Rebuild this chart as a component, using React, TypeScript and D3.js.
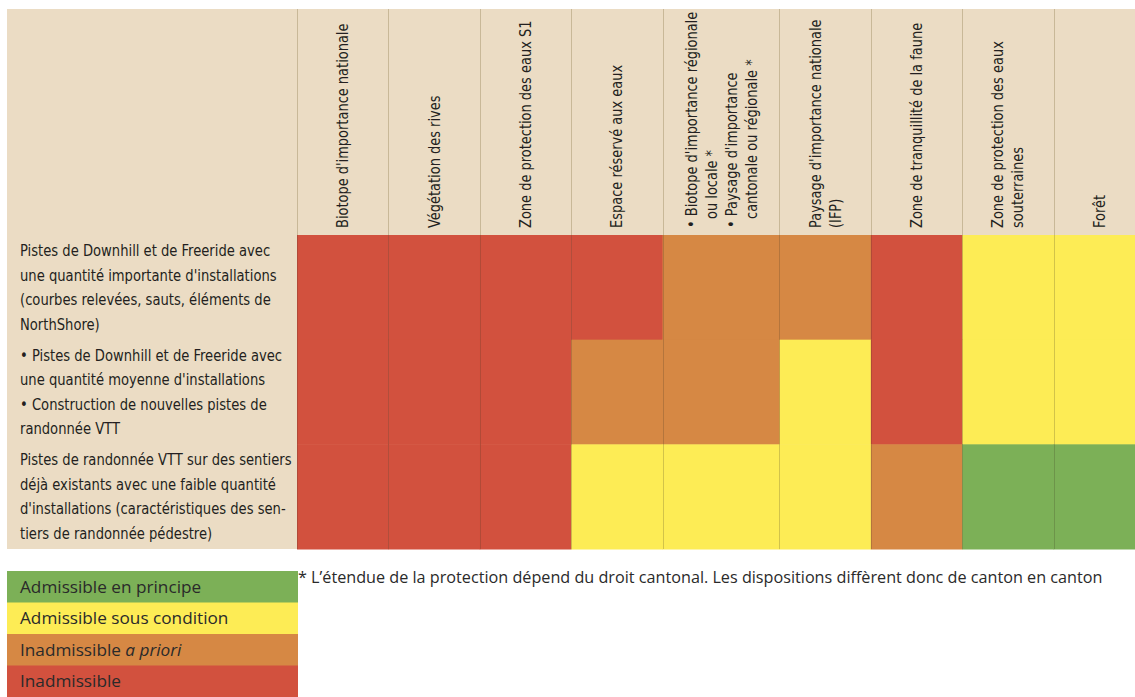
import React, { useEffect, useRef } from 'react';
import * as d3 from 'd3';

// protected zones (columns), header lines as printed
const zones = [
  "Biotope d'importance nationale",
  'Végétation des rives',
  'Zone de protection des eaux S1',
  'Espace réservé aux eaux',
  "Biotope / Paysage d'importance régionale",
  "Paysage d'importance nationale (IFP)",
  'Zone de tranquillité de la faune',
  'Zone de protection des eaux souterraines',
  'Forêt',
];
const zoneLines = [
  ["Biotope d'importance nationale"],
  ['Végétation des rives'],
  ['Zone de protection des eaux S1'],
  ['Espace réservé aux eaux'],
  ["• Biotope d'importance régionale", 'ou locale *', "• Paysage d'importance", 'cantonale ou régionale *'],
  ["Paysage d'importance nationale", '(IFP)'],
  ['Zone de tranquillité de la faune'],
  ['Zone de protection des eaux', 'souterraines'],
  ['Forêt'],
];

// trail types (rows)
const usageLines = [
  [
    'Pistes de Downhill et de Freeride avec',
    "une quantité importante d'installations",
    '(courbes relevées, sauts, éléments de',
    'NorthShore)',
  ],
  [
    '• Pistes de Downhill et de Freeride avec',
    "une quantité moyenne d'installations",
    '• Construction de nouvelles pistes de',
    'randonnée VTT',
  ],
  [
    'Pistes de randonnée VTT sur des sentiers',
    'déjà existants avec une faible quantité',
    "d'installations (caractéristiques des sen-",
    'tiers de randonnée pédestre)',
  ],
];

// 0 admissible en principe, 1 sous condition, 2 a priori inadmissible, 3 inadmissible
const ratings = [
  [3, 3, 3, 3, 2, 2, 3, 1, 1],
  [3, 3, 3, 2, 2, 1, 3, 1, 1],
  [3, 3, 3, 1, 1, 1, 2, 0, 0],
];

const levels = ['Admissible en principe', 'Admissible sous condition', 'Inadmissible a priori', 'Inadmissible'];
const levelColors = ['#7cb057', '#fdec55', '#d68844', '#d2513e'];

const footnote =
  '* L’étendue de la protection dépend du droit cantonal. Les dispositions diffèrent donc de canton en canton';

// relative column widths (the regional biotope column is wider)
const colSpan = [1, 1, 1, 1, 1.28, 1, 1, 1, 1];

const W = 1135;
const H = 697;
const BEIGE = '#ebdcc4';
const COND = "'DejaVu Sans Condensed', 'DejaVu Sans', sans-serif";
const ROUND = "'Open Sans', Lato, sans-serif";

const App = () => {
  const svgRef = useRef<SVGSVGElement>(null);

  useEffect(() => {
    document.body.style.margin = '0';
    if (!svgRef.current) return;
    const svg = d3.select(svgRef.current);
    svg.selectAll('*').remove();

    const tableLeft = 7;
    const tableTop = 9;
    const headBottom = 235;
    const tableBottom = 549;

    const edges = [0, ...Array.from(d3.cumsum(colSpan))];
    const x = d3.scaleLinear().domain([0, d3.sum(colSpan)]).range([297, 1145]);
    const colX = (i: number) => x(edges[i]);
    const colW = (i: number) => x(edges[i + 1]) - x(edges[i]);

    const y = d3
      .scaleBand<number>()
      .domain(d3.range(usageLines.length))
      .range([headBottom, tableBottom]);

    // beige background
    svg.append('rect')
      .attr('x', tableLeft)
      .attr('y', tableTop)
      .attr('width', W - tableLeft)
      .attr('height', tableBottom - tableTop)
      .attr('fill', BEIGE);

    // cells
    const rows = svg.selectAll('.row')
      .data(ratings)
      .enter()
      .append('g')
      .attr('class', 'row');

    rows.selectAll('rect')
      .data((d, r) => d.map((v, c) => ({ v, c, r })))
      .enter()
      .append('rect')
      .attr('x', d => colX(d.c))
      .attr('y', d => y(d.r)!)
      .attr('width', d => colW(d.c) + 0.5)
      .attr('height', y.bandwidth() + 0.5)
      .attr('fill', d => levelColors[d.v]);

    // column separators
    zones.forEach((_, i) => {
      const xx = Math.round(colX(i)) + 0.5;
      svg.append('line')
        .attr('x1', xx).attr('x2', xx)
        .attr('y1', tableTop).attr('y2', headBottom)
        .attr('stroke', '#c8b898')
        .attr('stroke-width', 1);
      svg.append('line')
        .attr('x1', xx).attr('x2', xx)
        .attr('y1', headBottom).attr('y2', tableBottom)
        .attr('stroke', 'rgba(60,50,30,0.22)')
        .attr('stroke-width', 1);
    });

    // rotated headers (condensed look: larger size squeezed along the text)
    const lh = 20;
    zoneLines.forEach((lines, i) => {
      const cx = colX(i) + colW(i) / 2;
      const bulleted = lines.some(l => l.startsWith('•'));
      lines.forEach((line, j) => {
        const lx = cx - ((lines.length - 1) * lh) / 2 + j * lh + 5.5;
        const indent = bulleted && !line.startsWith('•') ? 9 : 0;
        svg.append('text')
          .attr('transform', `translate(${lx},${228 - indent}) rotate(-90) scale(0.88,1)`)
          .attr('font-family', COND)
          .attr('font-size', 16.4)
          .attr('fill', '#231f20')
          .text(line);
      });
    });

    // row labels
    const rlh = 24.5;
    usageLines.forEach((lines, r) => {
      const mid = y(r)! + y.bandwidth() / 2;
      lines.forEach((line, j) => {
        const yy = mid - ((lines.length - 1) * rlh) / 2 + j * rlh + 5.5;
        svg.append('text')
          .attr('transform', `translate(20,${yy}) scale(0.885,1)`)
          .attr('font-family', COND)
          .attr('font-size', 16.5)
          .attr('fill', '#231f20')
          .text(line);
      });
    });

    // legend
    const ly = d3.scaleBand<number>().domain(d3.range(levels.length)).range([571, 697]);
    levels.forEach((lab, i) => {
      svg.append('rect')
        .attr('x', 7)
        .attr('y', ly(i)!)
        .attr('width', 291)
        .attr('height', ly.bandwidth() + 0.5)
        .attr('fill', levelColors[i]);
      const t = svg.append('text')
        .attr('x', 20)
        .attr('y', ly(i)! + ly.bandwidth() / 2 + 6)
        .attr('font-family', ROUND)
        .attr('font-size', 17.2)
        .attr('fill', '#2a2a2a');
      if (lab.endsWith('a priori')) {
        t.append('tspan').text('Inadmissible ');
        t.append('tspan').attr('font-style', 'italic').text('a priori');
      } else {
        t.text(lab);
      }
    });

    svg.append('text')
      .attr('x', 298)
      .attr('y', 583)
      .attr('font-family', ROUND)
      .attr('font-size', 16.2)
      .attr('fill', '#2a2a2a')
      .text(footnote);
  }, []);

  return <svg ref={svgRef} width={W} height={H} style={{ display: 'block', background: '#fff' }} />;
};

export default App;
